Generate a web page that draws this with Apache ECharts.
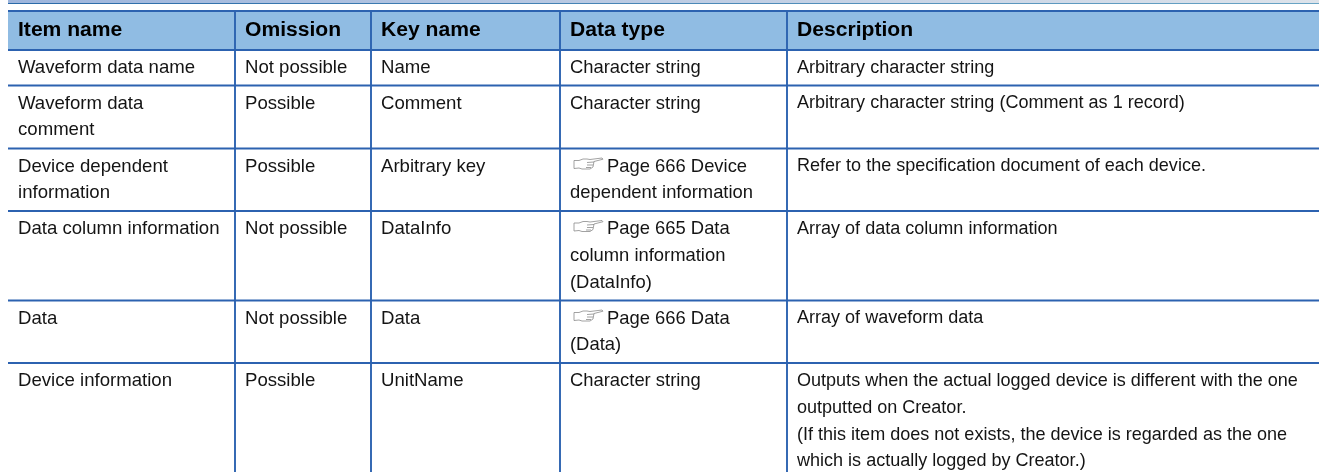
<!DOCTYPE html>
<html>
<head>
<meta charset="utf-8">
<style>
  html, body { margin: 0; padding: 0; background: #fff; }
  #chart { width: 1319px; height: 472px; }
</style>
<script src="https://cdn.jsdelivr.net/npm/echarts@6/dist/echarts.min.js"></script>
</head>
<body>
<div id="chart"></div>
<script>
const columns = ['Item name', 'Omission', 'Key name', 'Data type', 'Description'];
const itemNames = ['Waveform data name', 'Waveform data\ncomment', 'Device dependent\ninformation', 'Data column information', 'Data', 'Device information'];
const omissions = ['Not possible', 'Possible', 'Possible', 'Not possible', 'Not possible', 'Possible'];
const keyNames = ['Name', 'Comment', 'Arbitrary key', 'DataInfo', 'Data', 'UnitName'];
const dataTypes = ['Character string', 'Character string', '@Page 666 Device\ndependent information', '@Page 665 Data\ncolumn information\n(DataInfo)', '@Page 666 Data\n(Data)', 'Character string'];
const descriptions = [
  'Arbitrary character string',
  'Arbitrary character string (Comment as 1 record)',
  'Refer to the specification document of each device.',
  'Array of data column information',
  'Array of waveform data',
  'Outputs when the actual logged device is different with the one\noutputted on Creator.\n(If this item does not exists, the device is regarded as the one\nwhich is actually logged by Creator.)'
];

const columnEdges = [8, 235, 371, 560, 787, 1319];
const rowEdges = [11, 50, 85.5, 148.5, 211, 300.5, 363, 472];
const columnFontSizes = [18.6, 18.6, 18.6, 18.4, 18.05];

const LINE = '#2c62b0';
const HEADER = '#90bce3';
const TEXT = '#141414';
const FONT = '"Liberation Sans", Arial, sans-serif';
const HAND = 'M0,3 L5,3 L9,1.5 L13,1.5 L16,2 L28,0.5 L29,1.7 L20,4 L19,9.5 L16,11.5 L8,11.5 L5,10.5 L0,11 Z M13,5 L20,4.5 M13,7.5 L19,7.5 M12,10 L17,10';

const bodyCols = [itemNames, omissions, keyNames, dataTypes, descriptions];
const cells = [];
columns.forEach((name, c) => cells.push({ value: [c, 0], text: name, bold: true }));
bodyCols.forEach((col, c) => col.forEach((text, r) => cells.push({ value: [c, r + 1], text })));

function renderCell(params, api) {
  const c = api.value(0), r = api.value(1);
  const cell = cells[params.dataIndex];
  const [x0, y0] = api.coord([columnEdges[c], rowEdges[r]]);
  const [x1, y1] = api.coord([columnEdges[c + 1], rowEdges[r + 1]]);
  const children = [];
  if (cell.bold) {
    children.push({ type: 'rect', shape: { x: x0, y: y0, width: x1 - x0, height: y1 - y0 }, style: { fill: HEADER } });
  }
  const lines = cell.text.split('\n');
  lines.forEach((line, i) => {
    let tx = x0 + 10;
    const ty = cell.bold ? y0 + 19.5 : y0 + 18 + i * 26.8;
    let str = line;
    if (line[0] === '@') {
      str = line.slice(1);
      children.push({
        type: 'path',
        shape: { pathData: HAND, layout: 'center', x: tx + 4, y: ty - 9, width: 29, height: 12 },
        style: { fill: '#fff', stroke: '#8a8a8a', lineWidth: 0.8 }
      });
      tx += 37;
    }
    children.push({
      type: 'text',
      style: {
        x: tx, y: ty, text: str, fill: cell.bold ? '#000' : TEXT,
        font: (cell.bold ? 'bold 21.1px ' : columnFontSizes[c] + 'px ') + FONT,
        textAlign: 'left', textVerticalAlign: 'middle'
      }
    });
  });
  return { type: 'group', children };
}

function renderRule(params, api) {
  const a = api.coord([api.value(0), api.value(1)]);
  const b = api.coord([api.value(2), api.value(3)]);
  return {
    type: 'line',
    shape: { x1: a[0], y1: a[1], x2: b[0], y2: b[1] },
    style: { stroke: LINE, lineWidth: api.value(4) }
  };
}

const rules = [];
rowEdges.slice(0, -1).forEach((y, i) => rules.push([columnEdges[0], y, 1319, y, i === 0 ? 2.2 : 1.9]));
columnEdges.slice(1, -1).forEach(x => rules.push([x, rowEdges[0], x, 472, 1.9]));

const chart = echarts.init(document.getElementById('chart'), null, { renderer: 'canvas' });
chart.setOption({
  animation: false,
  backgroundColor: '#fff',
  grid: { left: 0, right: 0, top: 0, bottom: 0 },
  xAxis: { type: 'value', min: 0, max: 1319, show: false },
  yAxis: { type: 'value', min: 0, max: 472, inverse: true, show: false },
  graphic: [{
    type: 'rect', left: 8, top: 0,
    shape: { width: 1311, height: 3 },
    style: { fill: new echarts.graphic.LinearGradient(0, 0, 1, 0, [{ offset: 0, color: '#9db5dc' }, { offset: 1, color: '#dde3ea' }]) }
  }, {
    type: 'rect', left: 8, top: 3,
    shape: { width: 1311, height: 1 },
    style: { fill: new echarts.graphic.LinearGradient(0, 0, 1, 0, [{ offset: 0, color: '#2a6aa8' }, { offset: 1, color: '#6aa5c5' }]) }
  }],
  series: [
    { type: 'custom', renderItem: renderCell, data: cells, silent: true, z: 1 },
    { type: 'custom', renderItem: renderRule, data: rules, silent: true, z: 2 }
  ]
});
</script>
</body>
</html>
